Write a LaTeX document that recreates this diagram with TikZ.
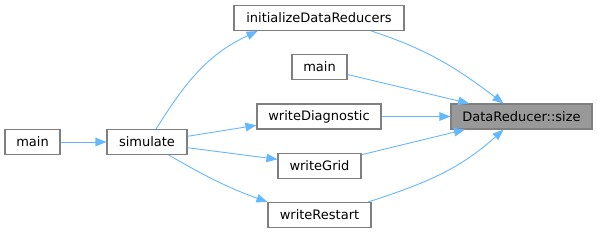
\documentclass[tikz,border=0pt]{standalone}
\usepackage{fontspec}
\setmainfont{DejaVu Sans}
\usetikzlibrary{arrows.meta}
\definecolor{edgeblue}{HTML}{63B8FF}
\definecolor{boxgray}{HTML}{7F7F7F}
\definecolor{hlfill}{HTML}{999999}
\tikzset{
  fn/.style={draw=boxgray, fill=white, line width=1.1pt, inner sep=0pt, minimum height=25pt, font=\fontsize{13}{15}\selectfont},
  hl/.style={fn, fill=hlfill},
  call/.style={draw=edgeblue, line width=0.9pt, -{Triangle[length=11pt,width=8.5pt]}}
}
\begin{document}
\begin{tikzpicture}[x=1pt,y=1pt]
\useasboundingbox (0,0) rectangle (597,-233);
\node[fn, minimum width=55] (mainL) at (32.5,-142) {main};
\node[fn, minimum width=80] (sim) at (147,-142) {simulate};
\node[fn, minimum width=170] (init) at (319,-18) {initializeDataReducers};
\node[fn, minimum width=55] (mainM) at (319.5,-67) {main};
\node[fn, minimum width=124] (wdiag) at (319,-116.5) {writeDiagnostic};
\node[fn, minimum width=83] (wgrid) at (319.5,-166) {writeGrid};
\node[fn, minimum width=103] (wrest) at (319.5,-215) {writeRestart};
\node[hl, minimum width=141] (size) at (521.5,-116.5) {DataReducer::size};

\draw[call] (mainL.east) -- (sim.west);
\draw[call] (sim.55) to[out=58,in=205] (init.192);
\draw[call] (sim.8.5) -- (wdiag.188.7);
\draw[call] (sim.352.2) -- (wgrid.171.1);
\draw[call] (sim.329.4) to[out=-30,in=160] (wrest.166.1);

\draw[call] (init.346.5) to[out=-18,in=143] (size.144.5);
\draw[call] (mainM.345.7) -- (size.166.4);
\draw[call] (wdiag.east) -- (size.west);
\draw[call] (wgrid.15.5) -- (size.193.6);
\draw[call] (wrest.15.2) to[out=18,in=222] (size.216);
\end{tikzpicture}
\end{document}
